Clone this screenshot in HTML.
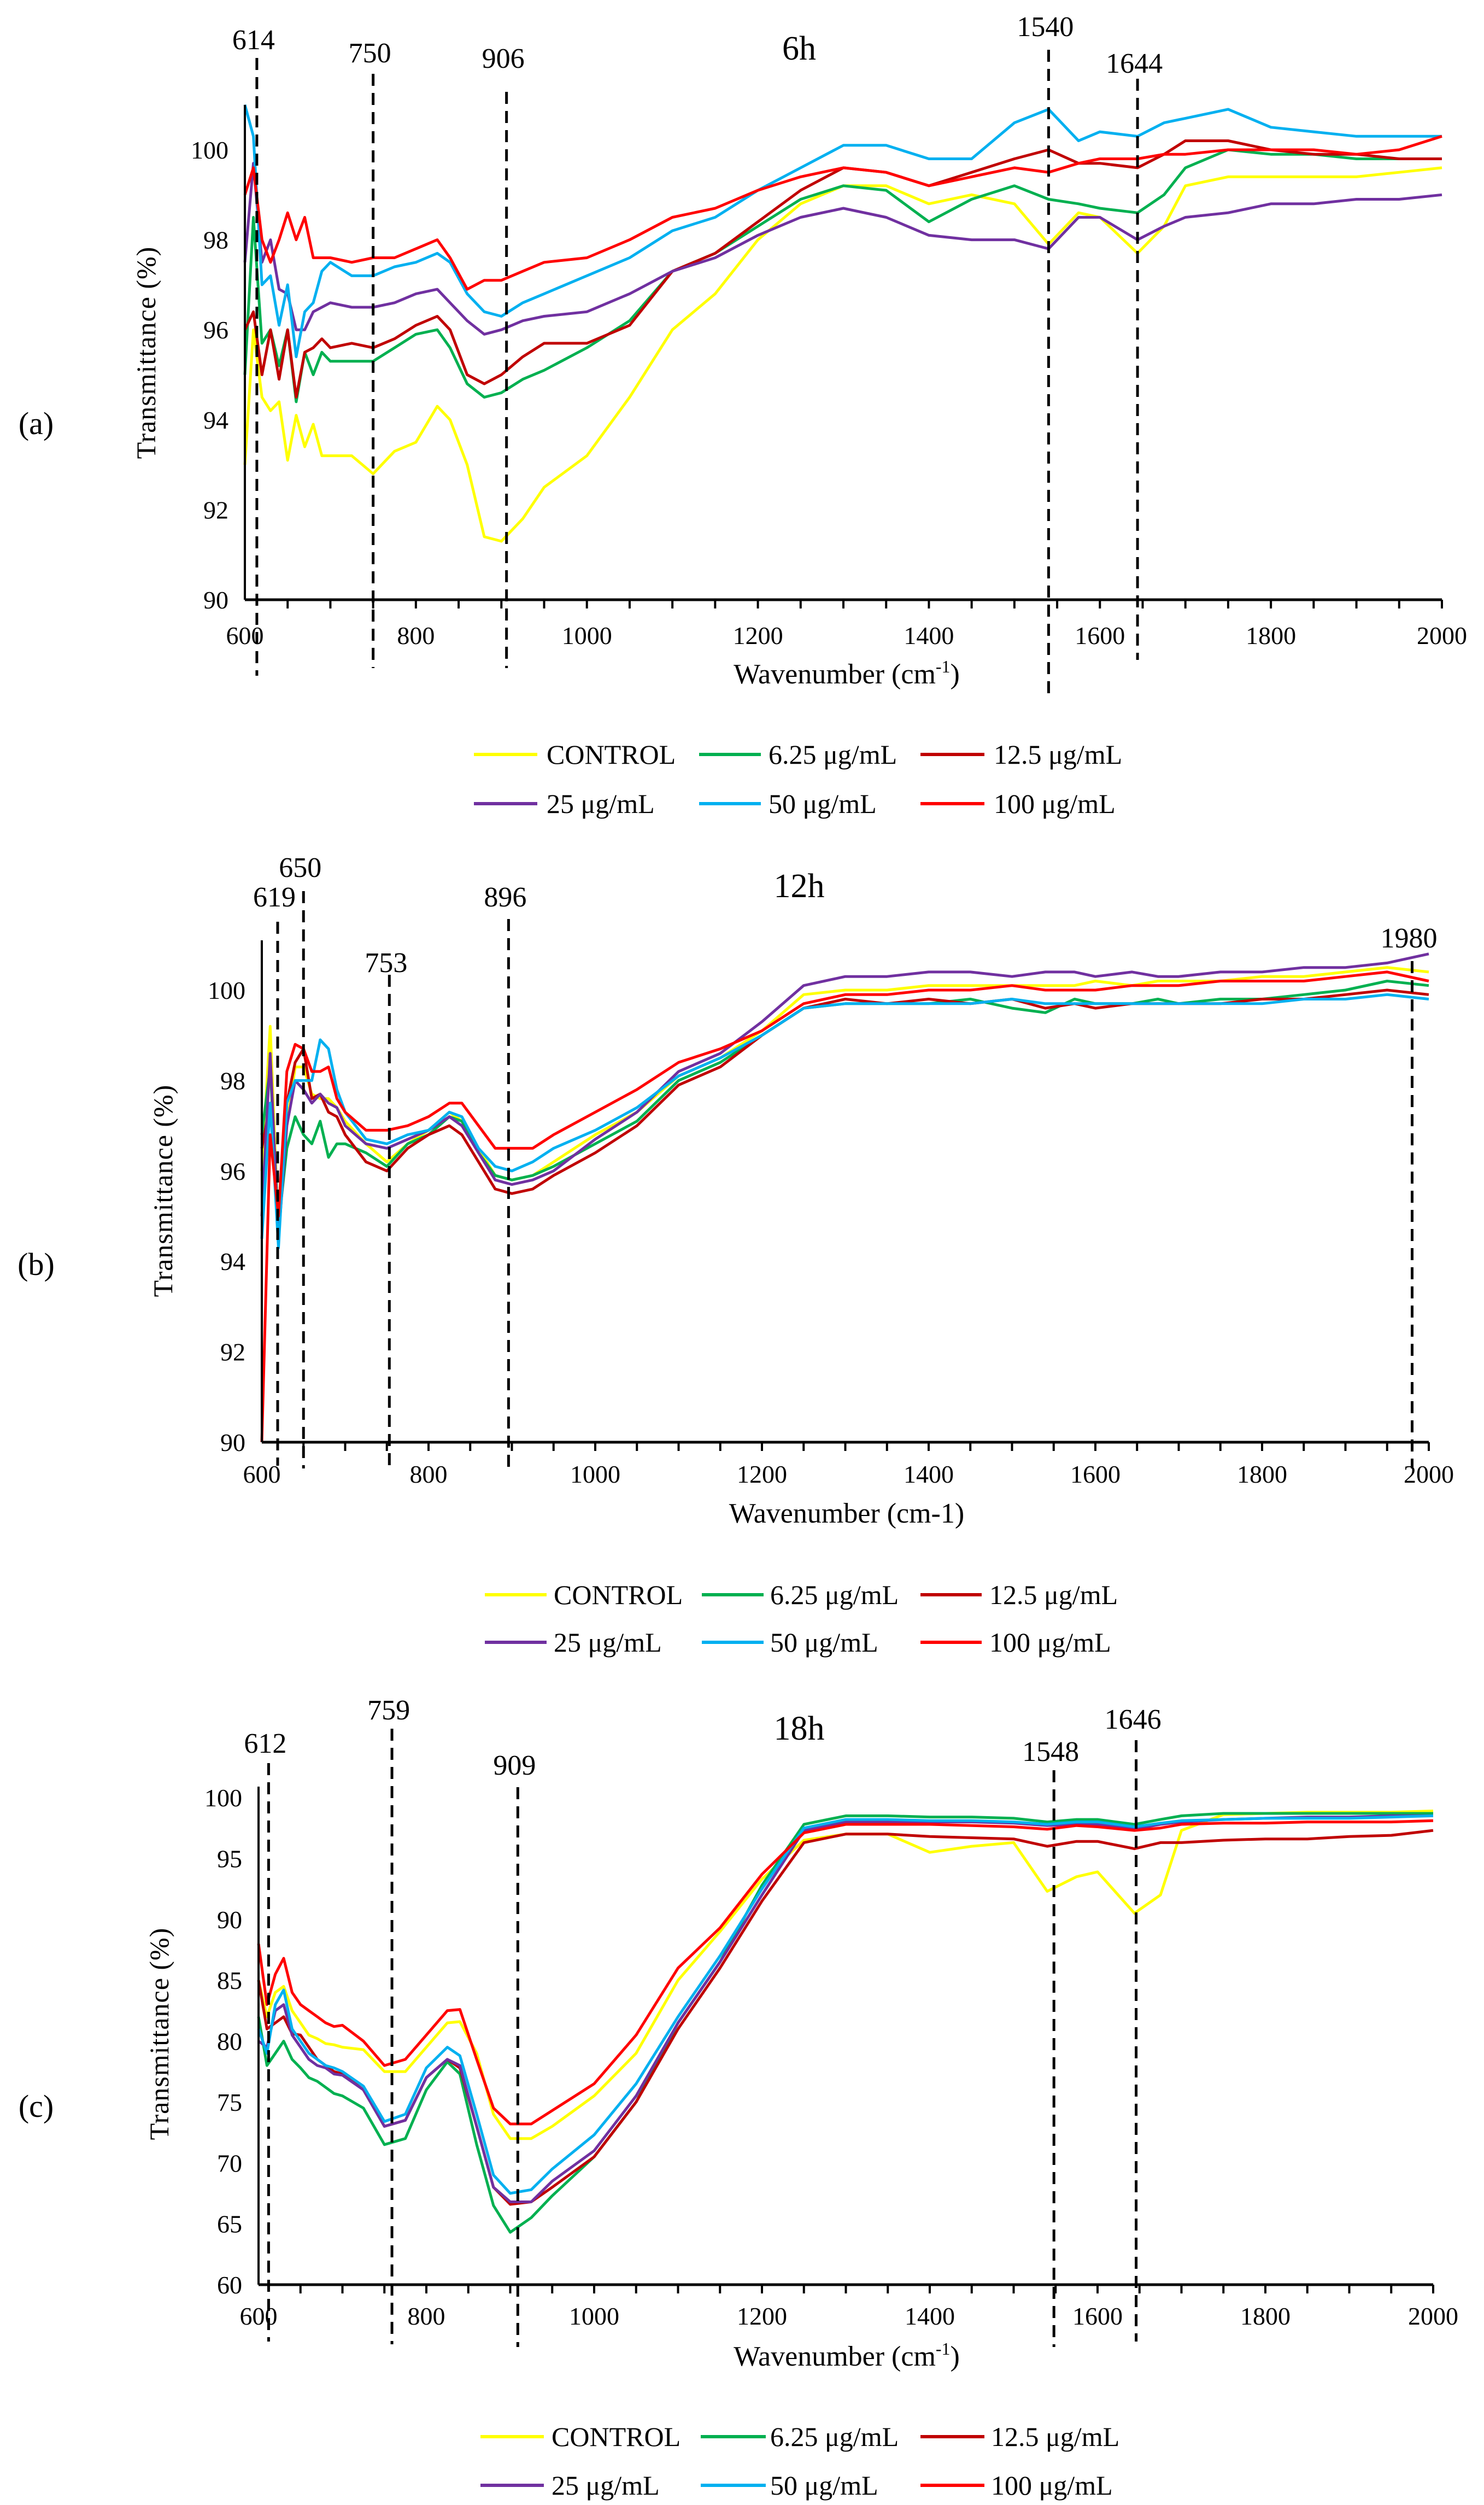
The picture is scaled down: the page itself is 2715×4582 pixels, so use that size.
<!DOCTYPE html>
<html><head><meta charset="utf-8">
<style>
html,body{margin:0;padding:0;background:#fff;}
svg{display:block;font-family:"Liberation Serif",serif;}
</style></head>
<body>
<svg id="fig" width="2715" height="4582" viewBox="0 0 2715 4582" xmlns="http://www.w3.org/2000/svg"></svg>
<script>
// ---------- DATA ----------
const wavenumbers = [600,610,620,630,640,650,660,670,680,690,700,725,750,775,800,825,840,860,880,900,925,950,1000,1050,1100,1150,1200,1250,1300,1350,1400,1450,1500,1540,1575,1600,1644,1675,1700,1750,1800,1850,1900,1950,2000];
const seriesNames = ["CONTROL","6.25 μg/mL","12.5 μg/mL","25 μg/mL","50 μg/mL","100 μg/mL"];
const seriesColors = ["#ffff00","#00b050","#c00000","#7030a0","#00b0f0","#ff0000"];

// Panel (a) 6h
const a_control = [93,96,94.5,94.2,94.4,93.1,94.1,93.4,93.9,93.2,93.2,93.2,92.8,93.3,93.5,94.3,94.0,93.0,91.4,91.3,91.8,92.5,93.2,94.5,96.0,96.8,98.0,98.8,99.2,99.2,98.8,99.0,98.8,97.9,98.6,98.5,97.7,98.3,99.2,99.4,99.4,99.4,99.4,99.5,99.6];
const a_625 = [95,98.5,95.7,96,95.2,96.0,94.4,95.5,95.0,95.5,95.3,95.3,95.3,95.6,95.9,96.0,95.6,94.8,94.5,94.6,94.9,95.1,95.6,96.2,97.3,97.7,98.3,98.9,99.2,99.1,98.4,98.9,99.2,98.9,98.8,98.7,98.6,99.0,99.6,100.0,99.9,99.9,99.8,99.8,99.8];
const a_125 = [96,96.4,95.0,96.0,94.9,96.0,94.5,95.5,95.6,95.8,95.6,95.7,95.6,95.8,96.1,96.3,96.0,95.0,94.8,95.0,95.4,95.7,95.7,96.1,97.3,97.7,98.4,99.1,99.6,99.5,99.2,99.5,99.8,100.0,99.7,99.7,99.6,99.9,100.2,100.2,100.0,99.9,99.9,99.8,99.8];
const a_25 = [97.5,99.7,97.5,98.0,96.9,96.8,96.0,96.0,96.4,96.5,96.6,96.5,96.5,96.6,96.8,96.9,96.6,96.2,95.9,96.0,96.2,96.3,96.4,96.8,97.3,97.6,98.1,98.5,98.7,98.5,98.1,98.0,98.0,97.8,98.5,98.5,98.0,98.3,98.5,98.6,98.8,98.8,98.9,98.9,99.0];
const a_50 = [101,100.3,97.0,97.2,96.1,97.0,95.4,96.4,96.6,97.3,97.5,97.2,97.2,97.4,97.5,97.7,97.5,96.8,96.4,96.3,96.6,96.8,97.2,97.6,98.2,98.5,99.1,99.6,100.1,100.1,99.8,99.8,100.6,100.9,100.2,100.4,100.3,100.6,100.7,100.9,100.5,100.4,100.3,100.3,100.3];
const a_100 = [99,99.6,98.0,97.5,98.0,98.6,98.0,98.5,97.6,97.6,97.6,97.5,97.6,97.6,97.8,98.0,97.6,96.9,97.1,97.1,97.3,97.5,97.6,98.0,98.5,98.7,99.1,99.4,99.6,99.5,99.2,99.4,99.6,99.5,99.7,99.8,99.8,99.9,99.9,100.0,100.0,100.0,99.9,100.0,100.3];

// Panel (b) 12h
const b_control = [96,99.2,94.6,97,98.3,98.3,97.7,97.6,97.6,97.4,97.1,96.6,96.2,96.6,96.9,97.3,97.1,96.5,95.9,95.8,95.9,96.2,96.8,97.3,98.1,98.5,99.1,99.9,100.0,100.0,100.1,100.1,100.1,100.1,100.1,100.2,100.1,100.2,100.2,100.2,100.3,100.3,100.4,100.5,100.4];
const b_625 = [96.8,98.3,94.8,96.5,97.2,96.8,96.6,97.1,96.3,96.6,96.6,96.4,96.1,96.6,96.8,97.2,97.1,96.4,95.9,95.8,95.9,96.1,96.6,97.1,98.0,98.4,99.0,99.6,99.7,99.7,99.7,99.8,99.6,99.5,99.8,99.7,99.7,99.8,99.7,99.8,99.8,99.9,100.0,100.2,100.1];
const b_125 = [96.5,97.5,94.6,97.5,98.4,98.7,97.6,97.7,97.3,97.2,96.8,96.2,96.0,96.5,96.8,97.0,96.8,96.2,95.6,95.5,95.6,95.9,96.4,97.0,97.9,98.3,99.0,99.6,99.8,99.7,99.8,99.7,99.8,99.6,99.7,99.6,99.7,99.7,99.7,99.7,99.8,99.8,99.9,100.0,99.9];
const b_25 = [95,98.6,94.5,97,98.0,97.8,97.5,97.7,97.5,97.4,97.0,96.6,96.5,96.7,96.9,97.2,97.0,96.4,95.8,95.7,95.8,96.0,96.7,97.3,98.2,98.6,99.3,100.1,100.3,100.3,100.4,100.4,100.3,100.4,100.4,100.3,100.4,100.3,100.3,100.4,100.4,100.5,100.5,100.6,100.8];
const b_50 = [94.5,97.5,94.3,97.5,98.0,98.0,98.0,98.9,98.7,97.8,97.3,96.7,96.6,96.8,96.9,97.3,97.2,96.5,96.1,96.0,96.2,96.5,96.9,97.4,98.1,98.5,99.0,99.6,99.7,99.7,99.7,99.7,99.8,99.7,99.7,99.7,99.7,99.7,99.7,99.7,99.7,99.8,99.8,99.9,99.8];
const b_100 = [90,96.8,95.0,98.2,98.8,98.7,98.2,98.2,98.3,97.6,97.3,96.9,96.9,97.0,97.2,97.5,97.5,97.0,96.5,96.5,96.5,96.8,97.3,97.8,98.4,98.7,99.1,99.7,99.9,99.9,100.0,100.0,100.1,100.0,100.0,100.0,100.1,100.1,100.1,100.2,100.2,100.2,100.3,100.4,100.2];

// Panel (c) 18h
const c_control = [85,82,84,84.5,82.5,81.5,80.5,80.2,79.8,79.7,79.5,79.3,77.5,77.5,79.5,81.5,81.6,79,74,72,72,73,75.5,79,85,89,93.3,96.5,97.0,97.0,95.5,96,96.3,92.3,93.5,93.9,90.5,92,97.3,98.6,98.7,98.8,98.8,98.8,98.9];
const c_625 = [82,78,79,80,78.5,77.8,77,76.7,76.2,75.7,75.5,74.5,71.5,72,76,78.3,77.3,71.5,66.5,64.3,65.5,67.3,70.5,75,81.5,86.5,92.8,97.8,98.5,98.5,98.4,98.4,98.3,98.0,98.2,98.2,97.8,98.2,98.5,98.7,98.7,98.7,98.7,98.7,98.7];
const c_125 = [85,81,81.5,82,80.6,80.5,79.5,78.5,78,77.5,77.3,76,73,73.5,77,78.5,77.8,73,68,66.6,66.8,68,70.5,75,81,86,91.5,96.3,97.0,97.0,96.8,96.7,96.6,96.0,96.4,96.4,95.8,96.3,96.3,96.5,96.6,96.6,96.8,96.9,97.3];
const c_25 = [80,79.5,82.5,83,80.5,79.5,78.5,78,77.8,77.3,77.2,76,73,73.5,77,78.5,78.0,73,68,66.8,66.8,68.5,71,75.5,81.5,86.5,92,97.3,98.0,98.0,98.0,98.0,97.9,97.7,97.8,97.8,97.4,97.8,98.0,98.2,98.3,98.4,98.4,98.5,98.5];
const c_50 = [81,79,83,84.2,81,80,79,78.5,78,77.8,77.5,76.3,73.4,74,77.8,79.5,78.8,74,69,67.5,67.8,69.5,72.3,76.5,82,87,92.5,97.5,98.2,98.2,98.1,98.1,98.0,97.8,98.0,98.0,97.6,97.9,98.1,98.2,98.3,98.3,98.3,98.4,98.5];
const c_100 = [88,83,85.5,86.8,84,83,82.5,82,81.5,81.2,81.3,80,78,78.5,80.5,82.5,82.6,78.5,74.5,73.2,73.2,74.3,76.5,80.5,86,89.3,93.7,97.1,97.8,97.8,97.8,97.7,97.6,97.4,97.7,97.6,97.3,97.5,97.8,97.9,97.9,98.0,98.0,98.0,98.1];

const xTicks = [600,800,1000,1200,1400,1600,1800,2000];
const yTicksAB = [90,92,94,96,98,100];
const yTicksC = [60,65,70,75,80,85,90,95,100];
const peaksA = [614,750,906,1540,1644];
const peaksB = [619,650,753,896,1980];
const peaksC = [612,759,909,1548,1646];

// ---------- LAYOUT ----------
const NS = "http://www.w3.org/2000/svg";
const svg = document.getElementById("fig");
function mk(tag, attrs, parent){
  const e = document.createElementNS(NS, tag);
  for (const k in attrs) e.setAttribute(k, attrs[k]);
  (parent||svg).appendChild(e);
  return e;
}

const panels = [
  {id:"a", title:"6h", tag:"(a)", series:[a_control,a_625,a_125,a_25,a_50,a_100], yTicks:yTicksAB, ymin:90, ymax:100, ytop:101.0,
   x0:448, x1:2638, yb:1097, yt:274, peaks:peaksA,
   peakLab:[[72,106,1236],[96,135,1222],[106,168,1222],[48,91,1275],[115,144,1207]],
   titleY:87, tagY:774, ytitleX:268, ytitleY:645, xtitleY:1250, sup:true, tickY:1178, leg1:1380, leg2:1470,
   legX:[[867,983,1000],[1279,1392,1406],[1684,1801,1818]]},
  {id:"b", title:"12h", tag:"(b)", series:[b_control,b_625,b_125,b_25,b_50,b_100], yTicks:yTicksAB, ymin:90, ymax:100, ytop:101.1,
   x0:479, x1:2614, yb:2638, yt:1811, peaks:peaksB,
   peakLab:[[1640,1686,2681],[1586,1630,2686],[1760,1783,2691],[1640,1681,2691],[1715,1758,2686]],
   titleY:1619, tagY:2312, ytitleX:299, ytitleY:2178, xtitleY:2785, sup:false, tickY:2712, leg1:2917, leg2:3004,
   legX:[[887,1000,1013],[1284,1397,1409],[1684,1796,1810]]},
  {id:"c", title:"18h", tag:"(c)", series:[c_control,c_625,c_125,c_25,c_50,c_100], yTicks:yTicksC, ymin:60, ymax:100, ytop:100.9,
   x0:473, x1:2622, yb:4179, yt:3288, peaks:peaksC,
   peakLab:[[3188,3225,4283],[3127,3162,4288],[3228,3269,4293],[3203,3238,4293],[3144,3183,4283]],
   titleY:3160, tagY:3852, ytitleX:292, ytitleY:3720, xtitleY:4327, sup:true, tickY:4252, leg1:4457, leg2:4546,
   legX:[[879,995,1009],[1282,1401,1409],[1684,1801,1813]]}
];

panels.forEach(p => {
  const g = mk("g", {});
  
  
  const xs = v => p.x0 + (v - 600) / 1400 * (p.x1 - p.x0);
  const ys = v => p.yb - (v - p.ymin) / (p.ymax - p.ymin) * (p.yb - p.yt);

  p.series.forEach((vals, si) => {
    const d = vals.map((v, i) => (i ? "L" : "M") + xs(wavenumbers[i]).toFixed(1) + " " + ys(v).toFixed(1)).join(" ");
    const path = mk("path", {d:d, fill:"none", stroke:seriesColors[si], "stroke-width":5, "stroke-linejoin":"round"}, g);
    
    
  });

  const yAxis = mk("line", {x1:p.x0, y1:ys(p.ytop), x2:p.x0, y2:p.yb, stroke:"#000", "stroke-width":4}, g);
  
  
  const xAxis = mk("line", {x1:p.x0, y1:p.yb, x2:p.x1, y2:p.yb, stroke:"#000", "stroke-width":5}, g);
  
  
  for (let w = 650; w <= 2000; w += 50) {
    mk("line", {x1:xs(w), y1:p.yb, x2:xs(w), y2:p.yb + 16, stroke:"#000", "stroke-width":4}, g);
  }
  xTicks.forEach(t => {
    const tl = mk("text", {x:xs(t), y:p.tickY, "font-size":46, "text-anchor":"middle", fill:"#000"}, g);
    tl.textContent = t;
    
    
  });
  p.yTicks.forEach(t => {
    const tl = mk("text", {x:p.x0 - 30, y:ys(t) + 16, "font-size":46, "text-anchor":"end", fill:"#000"}, g);
    tl.textContent = t;
    
    
  });

  p.peaks.forEach((pk, i) => {
    const [ly, y1, y2] = p.peakLab[i];
    const ln = mk("line", {x1:xs(pk), y1:y1, x2:xs(pk), y2:y2, stroke:"#000", "stroke-width":5, "stroke-dasharray":"22 13"}, g);
    
    
    const lt = mk("text", {x:xs(pk) - 6, y:ly + 18, "font-size":52, "text-anchor":"middle", fill:"#000"}, g);
    lt.textContent = pk;
    
    
  });

  const tt = mk("text", {x:1462, y:p.titleY + 22, "font-size":62, "text-anchor":"middle", fill:"#000"}, g);
  tt.textContent = p.title;
  
  
  const tg = mk("text", {x:66, y:p.tagY + 20, "font-size":58, "text-anchor":"middle", fill:"#000"}, g);
  tg.textContent = p.tag;
  
  
  const yt = mk("text", {x:p.ytitleX, y:p.ytitleY, "font-size":50, "text-anchor":"middle", fill:"#000", "letter-spacing":"1",
    transform:"rotate(-90 " + (p.ytitleX) + " " + p.ytitleY + ")", dy:"16"}, g);
  yt.textContent = "Transmittance (%)";
  
  
  const xt = mk("text", {x:1549, y:p.xtitleY, "font-size":52, "text-anchor":"middle", fill:"#000"}, g);
  if (p.sup) {
    xt.appendChild(document.createTextNode("Wavenumber (cm"));
    const s = mk("tspan", {"font-size":32, dy:"-20"}, xt);
    s.textContent = "-1";
    const s2 = mk("tspan", {dy:"20"}, xt);
    s2.textContent = ")";
  } else {
    xt.textContent = "Wavenumber (cm-1)";
  }
  
  

  seriesNames.forEach((nm, si) => {
    const row = si < 3 ? p.leg1 : p.leg2;
    const [lx1, lx2, tx] = p.legX[si % 3];
    const le = mk("g", {}, g);
    
    
    mk("line", {x1:lx1, y1:row, x2:lx2, y2:row, stroke:seriesColors[si], "stroke-width":6}, le);
    const t = mk("text", {x:tx, y:row + 17, "font-size":50, fill:"#000"}, le);
    t.textContent = nm;
  });
});
</script>
</body></html>
